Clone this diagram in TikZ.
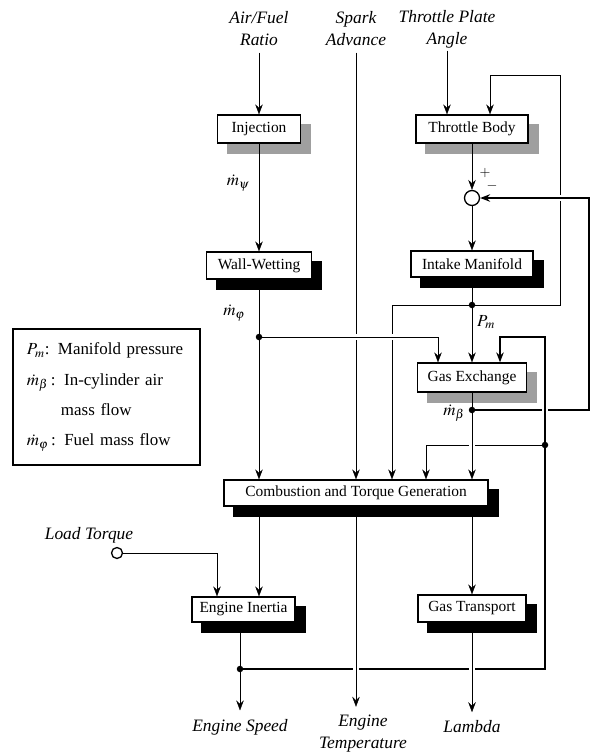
\documentclass[tikz,border=0pt]{standalone}
\usepackage{mathptmx}
\usepackage{fontspec}
\setmainfont{Liberation Serif}
\usetikzlibrary{arrows.meta,backgrounds}
\newcommand\boxfont{\fontsize{15.5}{18}\selectfont}
\newcommand\sigfont{\fontsize{17.5}{22}\selectfont\itshape}
\newcommand\legfont{\fontsize{17}{30.5}\selectfont}

\begin{document}
\begin{tikzpicture}[x=1bp,y=-1bp,line width=1.3bp,
  >={Stealth[length=10bp,width=7.5bp,inset=3.5bp]},
  blk/.style={draw,fill=white,inner sep=0pt,minimum height=27bp,font=\boxfont},
  sig/.style={align=center,inner sep=1bp,font=\sigfont},
  lbl/.style={inner sep=1bp,font=\fontsize{17}{20}\selectfont},
  dot/.style={circle,fill,inner sep=0pt,minimum size=6.5bp},
  thk/.style={line width=2bp},
  gap/.style={preaction={draw=white,line width=6bp,-,shorten <=14bp,shorten >=4bp}}]
\useasboundingbox (0,0) rectangle (593,753);

\node[sig] (af) at (259,29) {Air/Fuel\\Ratio};
\node[sig] (sa) at (356,29) {Spark\\Advance};
\node[sig] (tp) at (447,29) {Throttle Plate\\Angle};
\node[blk,minimum width=83bp,minimum height=28bp] (inj) at (259,129) {Injection};
\node[blk,minimum width=112bp,minimum height=28bp] (thr) at (472,129) {Throttle Body};
\node[circle,draw,fill=white,inner sep=0pt,minimum size=15bp] (sum) at (472,198) {};
\node[blk,minimum width=105bp] (ww) at (259,265.5) {Wall-Wetting};
\node[blk,minimum width=122bp,minimum height=26bp] (im) at (472,264) {Intake Manifold};
\node[blk,minimum width=109bp,minimum height=29bp] (gx) at (472,377.5) {Gas Exchange};
\node[blk,minimum width=264bp,minimum height=26bp] (comb) at (356,493) {Combustion and Torque Generation};
\node[blk,minimum width=103bp,minimum height=25bp] (ei) at (243.5,609.5) {Engine Inertia};
\node[blk,minimum width=108bp] (gt) at (472,608.5) {Gas Transport};
\node[sig] (lt) at (89,535) {Load Torque};
\node[circle,draw,fill=white,inner sep=0pt,minimum size=11bp] (lc) at (117,553) {};
\node[sig] (spd) at (240,727) {Engine Speed};
\node[sig] (et) at (363,734) {Engine\\Temperature};
\node[sig] (lam) at (472,727) {Lambda};
\node[draw,align=left,text width=159bp,inner xsep=14bp,inner ysep=0pt,minimum height=136bp,font=\legfont] (leg) at (106.5,397)
  {$P_m$: Manifold pressure\\$\dot m_\beta$\,: In-cylinder air\\\hspace*{34bp}mass flow\\$\dot m_\varphi$\,: Fuel mass flow};

\coordinate (mf) at (259,337);
\coordinate (pm) at (472,305);
\coordinate (mb) at (472,410);
\coordinate (ws) at (545,445);
\coordinate (es) at (240,669);
\coordinate (tk) at (490,75);
\coordinate (tr) at (560,75);
\coordinate (fb) at (589,410);
\coordinate (sc) at (545,337);

\begin{pgfonlayer}{background}
\foreach \n/\c in {inj/gray!75,thr/gray!75,gx/gray!75,ww/black,im/black,comb/black,ei/black,gt/black}
  \fill[\c] ([shift={(10,10)}]\n.north west) rectangle ([shift={(10,10)}]\n.south east);
\end{pgfonlayer}

\draw[->,shorten <=5bp] (af) -- (inj);
\draw[->,shorten <=1bp] (tp) -- (tp |- thr.north);
\draw[->,shorten <=5bp] (sa) -- (sa |- comb.north);
\draw[->] (inj) -- (ww);
\draw[->] (thr) -- (sum);
\draw[->] (sum) -- (im);
\draw[->] (im) -- (gx);
\draw[->] (pm) -| (tr) -- (tk) -- (tk |- thr.north);
\draw[->] (pm) -| ([xshift=36bp]comb.north);
\draw[->] (ww) -- (ww |- comb.north);
\draw[->,thk,gap] (mb) -- (fb) |- (sum);
\draw[->,thk,gap] (es) -| (sc) -| ([xshift=28bp]gx.north);
\draw[->] (ws) -| ([xshift=70bp]comb.north);
\draw[->,gap] (gx) -- (gx |- comb.north);
\draw[->,gap] (mf) -| ([xshift=-34bp]gx.north);
\draw[->] (comb.south -| mf) -- (mf |- ei.north);
\draw[->,gap,shorten >=7bp] (comb.south -| sa) -- (sa |- et.north);
\draw[->] (comb.south -| gt) -- (gt);
\draw[->,gap,shorten >=7bp] (gt) -- (lam);
\draw[->,shorten >=7bp] (ei.south -| es) -- (es |- spd.north);
\draw[->] (lc) -| ([xshift=-26.5bp]ei.north);

\foreach \p in {mf,pm,mb,ws,es} \node[dot] (d\p) at (\p) {};

\node[lbl] (lpsi) at (238,183) {$\dot m_\psi$};
\node[lbl] (lphi) at (234,313) {$\dot m_\varphi$};
\node[lbl] (lpm) at (486,322) {$P_m$};
\node[lbl] (lbeta) at (454,413) {$\dot m_\beta$};
\node[inner sep=1bp,font=\fontsize{14}{16}\selectfont] (lplus) at (485,173) {$+$};
\node[inner sep=1bp,font=\fontsize{14}{16}\selectfont] (lminus) at (492,186) {$-$};
\end{tikzpicture}
\end{document}
